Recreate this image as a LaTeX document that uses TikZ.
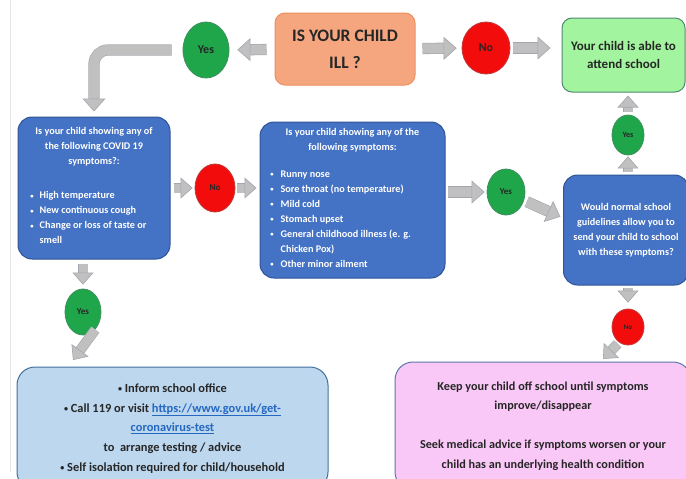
\documentclass[tikz,border=0pt]{standalone}
\usepackage{fontspec}
\setmainfont{Carlito}
\usepackage{xcolor}
\usepackage{array}
\usetikzlibrary{arrows.meta}
\usetikzlibrary{shapes.geometric}

\definecolor{askfill}{HTML}{F5A67F}
\definecolor{askedge}{HTML}{EE8F5E}
\definecolor{okfill}{HTML}{A3F49E}
\definecolor{okedge}{HTML}{4F8A73}
\definecolor{qfill}{HTML}{4472C4}
\definecolor{qedge}{HTML}{2F5597}
\definecolor{yesfill}{HTML}{1FA64A}
\definecolor{yesedge}{HTML}{3F8F5E}
\definecolor{nofill}{HTML}{F20C0C}
\definecolor{noedge}{HTML}{C43A3A}
\definecolor{actfill}{HTML}{BDD7EE}
\definecolor{actedge}{HTML}{41719C}
\definecolor{homefill}{HTML}{F9C8F7}
\definecolor{homeedge}{HTML}{5B77A8}
\definecolor{arrfill}{HTML}{C0C0C0}
\definecolor{arredge}{HTML}{A2A6AE}
\definecolor{ink}{HTML}{262626}
\definecolor{linkblue}{HTML}{2468C2}

\newcommand{\weblink}[1]{{\color{linkblue}\underline{#1}}}
\newcommand{\dotmark}{\raisebox{0.15ex}{\scalebox{0.65}{\textbullet}}}

\tikzset{
  flowbox/.style={draw, line width=1pt, align=center, inner sep=0pt},
  askbox/.style={flowbox, fill=askfill, draw=askedge, rounded corners=10pt, font=\bfseries\fontsize{17.5}{27}\selectfont},
  okbox/.style={flowbox, fill=okfill, draw=okedge, rounded corners=10pt, font=\bfseries\fontsize{13}{18}\selectfont},
  qbox/.style={flowbox, fill=qfill, draw=qedge, rounded corners=14pt, text=white, font=\bfseries\fontsize{10.2}{15}\selectfont},
  actbox/.style={flowbox, fill=actfill, draw=actedge, rounded corners=18pt, font=\bfseries\fontsize{12.4}{19.7}\selectfont},
  homebox/.style={flowbox, fill=homefill, draw=homeedge, rounded corners=18pt, font=\bfseries\fontsize{12.2}{19.5}\selectfont},
  yesnode/.style={ellipse, fill=yesfill, draw=yesedge, line width=0.8pt, inner sep=0pt, font=\bfseries\fontsize{9}{9}\selectfont},
  nonode/.style={ellipse, fill=nofill, draw=noedge, line width=0.8pt, inner sep=0pt, font=\bfseries\fontsize{9}{9}\selectfont},
  blkarrow/.style={draw=arredge, double=arrfill, line width=0.6pt, double distance=10pt,
    -{Triangle[width=23pt,length=13pt,fill=arrfill,color=arredge,line width=0.6pt]}},
  slimarrow/.style={draw=arredge, double=arrfill, line width=0.6pt, double distance=9pt,
    -{Triangle[width=21pt,length=12pt,fill=arrfill,color=arredge,line width=0.6pt]}}
}

\begin{document}
\begin{tikzpicture}[x=1pt, y=-1pt, text=ink]
  \clip (0,0) rectangle (686,479);
  \fill[white] (0,0) rectangle (686,479);
  \draw[gray!20, line width=1pt] (10,0) -- (10,472);

  \node[askbox, minimum width=140pt, minimum height=72pt] (ill) at (345,49) {IS YOUR CHILD\\ILL ?};
  \node[yesnode, minimum width=46pt, minimum height=56pt, font=\bfseries\fontsize{12}{12}\selectfont] (yesA) at (206,50) {Yes};
  \node[nonode, minimum width=48pt, minimum height=52pt, font=\bfseries\fontsize{12}{12}\selectfont] (noA) at (486,48) {No};
  \node[okbox, minimum width=123pt, minimum height=74pt] (ok) at (623.5,55) {Your child is able to\\attend school};

  \node[qbox, minimum width=152pt, minimum height=142pt] (covid) at (94,188) {Is your child showing any of\\the following COVID 19\\symptoms?:\\[19pt]
    \begin{tabular}[t]{@{}l@{\hspace{6pt}}p{118pt}@{}}
      \dotmark & High temperature\\
      \dotmark & New continuous cough\\
      \dotmark & Change or loss of taste or\\
               & smell
    \end{tabular}};
  \node[nonode, minimum width=40pt, minimum height=48pt] (noB) at (215,188) {No};
  \node[qbox, minimum width=185pt, minimum height=156pt] (symp) at (352.5,200) {Is your child showing any of the\\following symptoms:\\[12pt]
    \begin{tabular}[t]{@{}l@{\hspace{7pt}}p{154pt}@{}}
      \dotmark & Runny nose\\
      \dotmark & Sore throat (no temperature)\\
      \dotmark & Mild cold\\
      \dotmark & Stomach upset\\
      \dotmark & General childhood illness (e. g.\\
               & Chicken Pox)\\
      \dotmark & Other minor ailment
    \end{tabular}};
  \node[yesnode, minimum width=38pt, minimum height=46pt] (yesB) at (506,192) {Yes};
  \node[qbox, minimum width=125pt, minimum height=110pt] (norm) at (626,230) {Would normal school\\guidelines allow you to\\send your child to school\\with these symptoms?};
  \node[yesnode, minimum width=32pt, minimum height=40pt, font=\bfseries\fontsize{8}{8}\selectfont] (yesC) at (628,135) {Yes};
  \node[nonode, minimum width=32pt, minimum height=36pt, font=\bfseries\fontsize{7}{7}\selectfont] (noC) at (628,327) {No};
  \node[yesnode, minimum width=36pt, minimum height=46pt] (yesD) at (83,312) {Yes};

  \node[actbox, minimum width=311pt, minimum height=123pt] (act) at (172.5,428.5) {\dotmark\ Inform school office\\
    \dotmark\ Call 119 or visit \weblink{https://www.gov.uk/get-}\\
    \weblink{coronavirus-test}\\
    to\ \ arrange testing / advice\\
    \dotmark\ Self isolation required for child/household};
  \node[homebox, minimum width=296pt, minimum height=128pt] (home) at (543,426) {Keep your child off school until symptoms\\improve/disappear\\[19.5pt]Seek medical advice if symptoms worsen or your\\child has an underlying health condition};

  \coordinate (actTip) at (73,360);
  \coordinate (homeTip) at (603,359);

  \draw[blkarrow, shorten <=8pt, shorten >=8pt] (ill) -- (yesA);
  \draw[blkarrow, rounded corners=14pt, shorten <=11pt, shorten >=5pt] (yesA.west) -| (covid.north);
  \draw[blkarrow, shorten <=7pt, shorten >=5pt] (ill) -- (noA);
  \draw[blkarrow, shorten <=3pt, shorten >=11pt] (noA.east) -- (noA.east -| ok.west);
  \draw[slimarrow, shorten <=3pt, shorten >=2pt] (covid) -- (noB);
  \draw[slimarrow, shorten <=2pt, shorten >=3pt] (noB.east) -- (noB.east -| symp.west);
  \draw[blkarrow, shorten <=2pt, shorten >=2pt] (yesB.west -| symp.east) -- (yesB.west);
  \draw[blkarrow, shorten <=3pt, shorten >=3pt] (yesB.-25) -- ([yshift=12pt]norm.west);
  \draw[slimarrow, shorten <=3pt, shorten >=1pt] (norm.north -| yesC) -- (yesC.south);
  \draw[slimarrow, shorten <=3pt, shorten >=3pt] (yesC.north) -- (yesC.north |- ok.south);
  \draw[slimarrow, shorten <=2pt, shorten >=6pt] (norm.south -| noC) -- (noC.north);
  \draw[slimarrow, shorten <=2pt] (noC.-120) -- (homeTip);
  \draw[slimarrow, shorten <=4pt, shorten >=4pt] (covid.south -| yesD) -- (yesD.north);
  \draw[slimarrow, shorten <=2pt] (yesD.-50) -- (actTip);
\end{tikzpicture}
\end{document}
